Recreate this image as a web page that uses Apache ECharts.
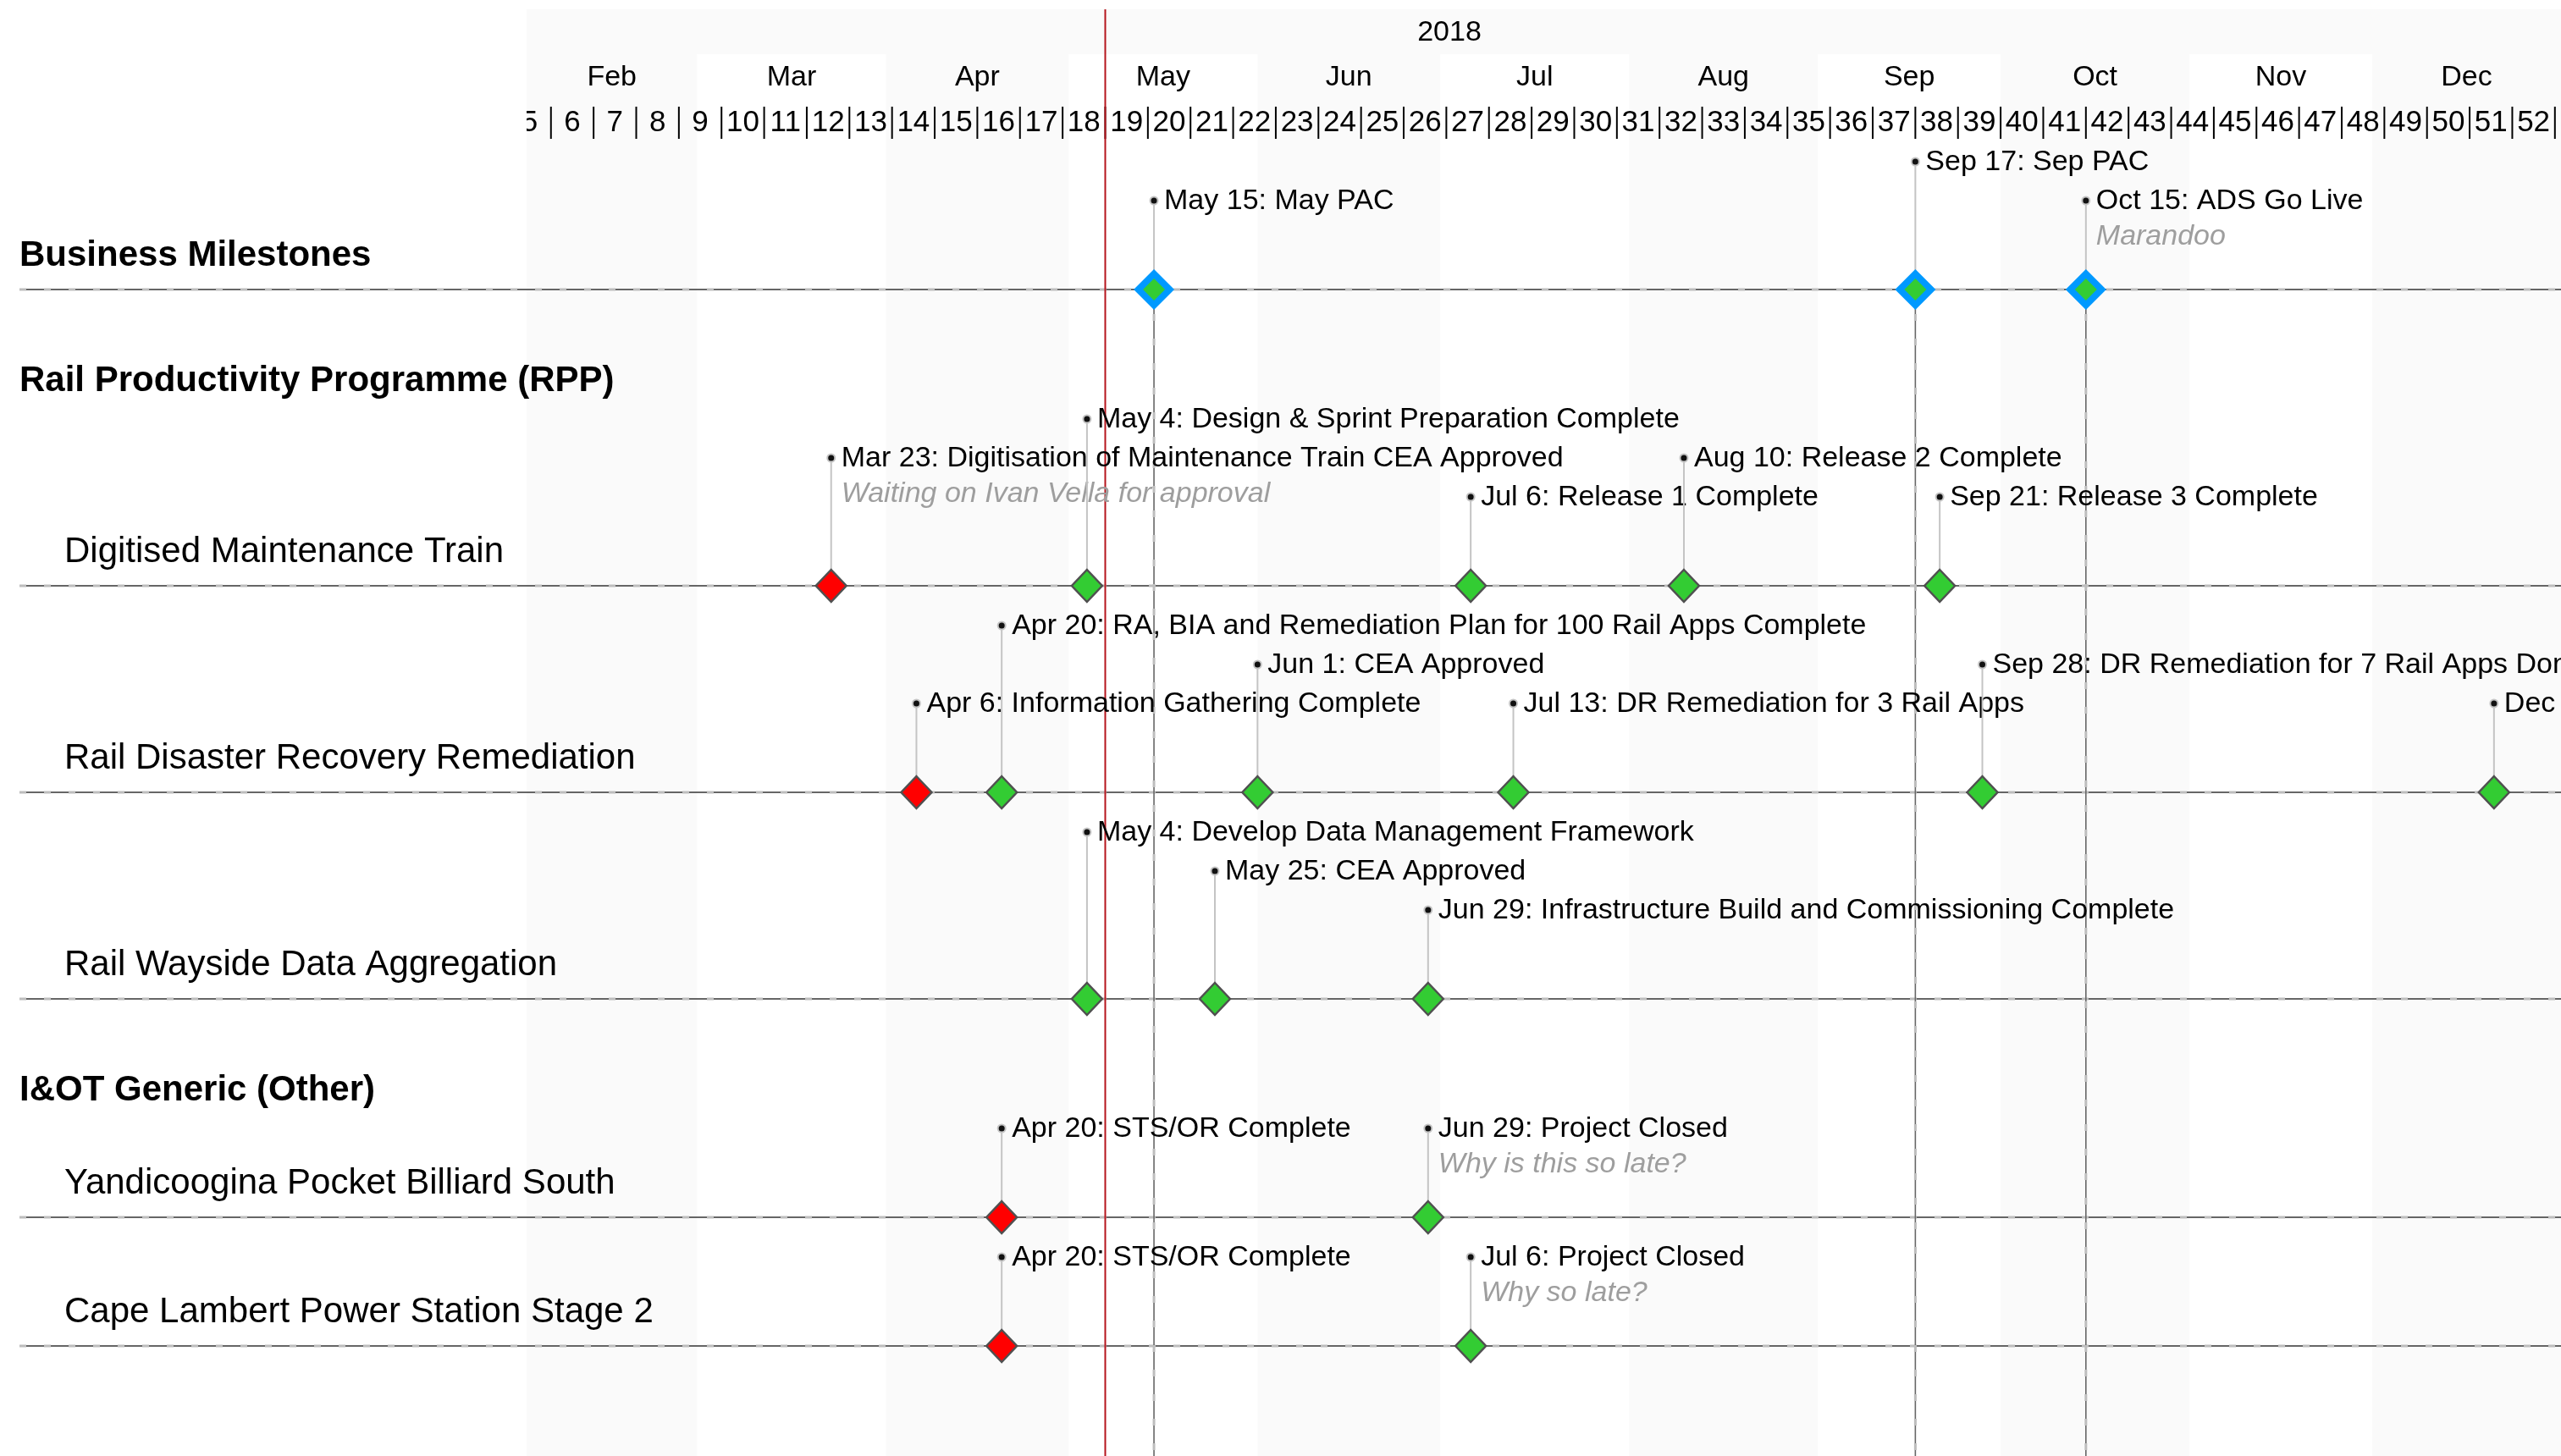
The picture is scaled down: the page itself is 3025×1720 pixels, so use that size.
<!DOCTYPE html>
<html>
<head>
<meta charset="utf-8">
<title>Milestones 2018</title>
<script src="https://cdn.jsdelivr.net/npm/echarts@6/dist/echarts.min.js"></script>
<style>
  html, body { margin: 0; padding: 0; background: #fff; }
  #chart { width: 3025px; height: 1720px; }
</style>
</head>
<body>
<div id="chart"></div>
<script>
  const yearLabel = '2018'
  const monthNames = ['Jan', 'Feb', 'Mar', 'Apr', 'May', 'Jun', 'Jul', 'Aug', 'Sep', 'Oct', 'Nov', 'Dec']
  const weekNumbers = [5, 6, 7, 8, 9, 10, 11, 12, 13, 14, 15, 16, 17, 18, 19, 20, 21, 22, 23, 24, 25, 26, 27, 28,
    29, 30, 31, 32, 33, 34, 35, 36, 37, 38, 39, 40, 41, 42, 43, 44, 45, 46, 47, 48, 49, 50, 51, 52]
  const todayDate = '2018-05-07'
  const rangeStart = '2018-02-01'
  const rangeEnd = '2019-01-01'

  const rowNames = [
    'Business Milestones',
    'Digitised Maintenance Train',
    'Rail Disaster Recovery Remediation',
    'Rail Wayside Data Aggregation',
    'Yandicoogina Pocket Billiard South',
    'Cape Lambert Power Station Stage 2'
  ]
  // programme header, shown above row index
  const programmes = [
    ['Rail Productivity Programme (RPP)', 1],
    ['I&OT Generic (Other)', 4]
  ]

  // [date, title, note, status, label level]
  const businessMilestones = [
    ['2018-05-15', 'May PAC', '', 'ok', 0],
    ['2018-09-17', 'Sep PAC', '', 'ok', 1],
    ['2018-10-15', 'ADS Go Live', 'Marandoo', 'ok', 0]
  ]
  const maintenanceTrain = [
    ['2018-03-23', 'Digitisation of Maintenance Train CEA Approved', 'Waiting on Ivan Vella for approval', 'late', 1],
    ['2018-05-04', 'Design & Sprint Preparation Complete', '', 'ok', 2],
    ['2018-07-06', 'Release 1 Complete', '', 'ok', 0],
    ['2018-08-10', 'Release 2 Complete', '', 'ok', 1],
    ['2018-09-21', 'Release 3 Complete', '', 'ok', 0]
  ]
  const disasterRecovery = [
    ['2018-04-06', 'Information Gathering Complete', '', 'late', 0],
    ['2018-04-20', 'RA, BIA and Remediation Plan for 100 Rail Apps Complete', '', 'ok', 2],
    ['2018-06-01', 'CEA Approved', '', 'ok', 1],
    ['2018-07-13', 'DR Remediation for 3 Rail Apps', '', 'ok', 0],
    ['2018-09-28', 'DR Remediation for 7 Rail Apps Done', '', 'ok', 1],
    ['2018-12-21', 'DR Remediation Complete', '', 'ok', 0]
  ]
  const waysideData = [
    ['2018-05-04', 'Develop Data Management Framework', '', 'ok', 2],
    ['2018-05-25', 'CEA Approved', '', 'ok', 1],
    ['2018-06-29', 'Infrastructure Build and Commissioning Complete', '', 'ok', 0]
  ]
  const yandicoogina = [
    ['2018-04-20', 'STS/OR Complete', '', 'late', 0],
    ['2018-06-29', 'Project Closed', 'Why is this so late?', 'ok', 0]
  ]
  const capeLambert = [
    ['2018-04-20', 'STS/OR Complete', '', 'late', 0],
    ['2018-07-06', 'Project Closed', 'Why so late?', 'ok', 0]
  ]
  const rowMilestones = [businessMilestones, maintenanceTrain, disasterRecovery, waysideData, yandicoogina, capeLambert]

  const FONT = '"Liberation Sans", Arial, Helvetica, sans-serif'
  const LEVEL = 46
  const STATUS_COLOR = { ok: '#33cc33', late: '#ff0000' }

  function toMs(s) {
    const p = s.split('-').map(Number)
    return new Date(p[0], p[1] - 1, p[2]).getTime()
  }

  // vertical layout of the rows (pixels, used through a hidden y axis)
  const rowLineY = []
  const rowLevel0Y = []
  const headerY = []
  let cursor = 145
  let afterLine = false
  rowNames.forEach((name, i) => {
    const prog = programmes.find(p => p[1] === i)
    let top
    if (prog) {
      cursor += afterLine ? 107 : LEVEL
      headerY.push([prog[0], cursor])
      top = cursor + LEVEL
    } else {
      top = cursor + (afterLine ? 47 : LEVEL)
    }
    const maxLevel = Math.max(...rowMilestones[i].map(m => m[4]))
    const level0 = top + maxLevel * LEVEL
    rowLevel0Y.push(level0)
    rowLineY.push(level0 + 105)
    cursor = level0 + 105
    afterLine = true
  })

  function text(x, y, str, font, fill, align) {
    return {
      type: 'text',
      style: {
        x: x, y: y + 1, text: str, font: font, fill: fill,
        align: align || 'left', textAlign: align || 'left',
        verticalAlign: 'middle', textVerticalAlign: 'middle'
      }
    }
  }

  function dashedLine(x1, y1, x2, y2, dark) {
    return [
      { type: 'line', shape: { x1, y1, x2, y2 }, style: { stroke: dark, lineWidth: 1.6 } },
      { type: 'line', shape: { x1, y1, x2, y2 }, style: { stroke: '#bdbdbd', lineWidth: 3, lineDash: [8, 21] } }
    ]
  }

  function diamond(cx, cy, hw, hh, style) {
    return {
      type: 'polygon',
      shape: { points: [[cx, cy - hh], [cx + hw, cy], [cx, cy + hh], [cx - hw, cy]] },
      style: style
    }
  }

  const chart = echarts.init(document.getElementById('chart'))

  const monthData = monthNames.map((m, i) => [new Date(2018, i, 1).getTime(), new Date(2018, i + 1, 1).getTime(), i])
    .filter(d => d[1] > toMs(rangeStart))
  const weekStart0 = toMs('2018-01-29') // Monday of week 5
  const weekData = weekNumbers.map(w => {
    const s = new Date(weekStart0)
    s.setDate(s.getDate() + (w - 5) * 7)
    const e = new Date(s)
    e.setDate(e.getDate() + 7)
    return [s.getTime(), e.getTime(), w]
  })
  const milestoneData = []
  rowMilestones.forEach((list, r) => list.forEach((m, k) => milestoneData.push([toMs(m[0]), r, k])))

  chart.setOption({
    animation: false,
    backgroundColor: '#fff',
    grid: { left: 622, right: 0, top: 0, bottom: 0 },
    xAxis: { type: 'time', min: toMs(rangeStart), max: toMs(rangeEnd), show: false },
    yAxis: { type: 'value', min: 0, max: 1720, inverse: true, show: false },
    series: [
      {
        // year band + label
        type: 'custom', z: 1, clip: true,
        data: [[toMs('2018-01-01'), toMs('2019-01-01')]],
        renderItem(params, api) {
          const a = api.coord([api.value(0), 11])
          const b = api.coord([api.value(1), 64])
          return {
            type: 'group',
            children: [
              { type: 'rect', shape: { x: a[0], y: a[1], width: b[0] - a[0], height: b[1] - a[1] }, style: { fill: '#fafafa' } },
              text((a[0] + b[0]) / 2, api.coord([0, 38])[1], yearLabel, '34px ' + FONT, '#000', 'center')
            ]
          }
        }
      },
      {
        // month bands + labels
        type: 'custom', z: 1, clip: true,
        data: monthData,
        renderItem(params, api) {
          const a = api.coord([api.value(0), 64])
          const b = api.coord([api.value(1), 1720])
          const idx = api.value(2)
          const children = []
          if (idx % 2 === 1) {
            children.push({ type: 'rect', shape: { x: a[0], y: a[1], width: b[0] - a[0], height: b[1] - a[1] }, style: { fill: '#fafafa' } })
          }
          children.push(text((a[0] + b[0]) / 2, api.coord([0, 91])[1], monthNames[idx], '34px ' + FONT, '#000', 'center'))
          return { type: 'group', children }
        }
      },
      {
        // ISO week numbers
        type: 'custom', z: 2, clip: true,
        data: weekData,
        renderItem(params, api) {
          const a = api.coord([api.value(0), 144])
          const b = api.coord([api.value(1), 144])
          const y1 = api.coord([0, 126])[1]
          const y2 = api.coord([0, 164])[1]
          return {
            type: 'group',
            children: [
              text((a[0] + b[0]) / 2, a[1], String(api.value(2)), '35px ' + FONT, '#000', 'center'),
              { type: 'line', shape: { x1: b[0], y1, x2: b[0], y2 }, style: { stroke: '#000', lineWidth: 2 } }
            ]
          }
        }
      },
      {
        // row lines, row labels and programme headers
        type: 'custom', z: 3,
        data: rowNames.map((n, i) => [toMs(rangeStart), i]),
        renderItem(params, api) {
          const i = api.value(1)
          const cs = params.coordSys
          const y = api.coord([api.value(0), rowLineY[i]])[1]
          const children = dashedLine(23, y, cs.x + cs.width, y, '#333')
          if (i === 0) {
            children.push(text(23, y - 41, rowNames[i], 'bold 42px ' + FONT, '#000'))
          } else {
            children.push(text(76, y - 41, rowNames[i], '42px ' + FONT, '#000'))
          }
          const h = headerY.find(p => programmes.find(q => q[0] === p[0])[1] === i)
          if (h) {
            children.push(text(23, api.coord([0, h[1]])[1], h[0], 'bold 42px ' + FONT, '#000'))
          }
          return { type: 'group', children }
        }
      },
      {
        // today
        type: 'custom', z: 4,
        data: [[toMs(todayDate)]],
        renderItem(params, api) {
          const a = api.coord([api.value(0), 11])
          const b = api.coord([api.value(0), 1720])
          return { type: 'line', shape: { x1: a[0], y1: a[1], x2: b[0], y2: b[1] }, style: { stroke: '#b5141c', lineWidth: 2 } }
        }
      },
      {
        // milestones
        type: 'custom', z: 5,
        data: milestoneData,
        renderItem(params, api) {
          const r = api.value(1)
          const m = rowMilestones[r][api.value(2)]
          const cs = params.coordSys
          const p = api.coord([api.value(0), rowLineY[r]])
          const x = p[0]
          const ly = p[1]
          const ty = api.coord([api.value(0), rowLevel0Y[r] - m[4] * LEVEL])[1]
          const d = new Date(api.value(0))
          const label = monthNames[d.getMonth()] + ' ' + d.getDate() + ': ' + m[1]
          let children = [
            { type: 'line', shape: { x1: x, y1: ty, x2: x, y2: ly }, style: { stroke: '#c4c4c4', lineWidth: 2 } }
          ]
          if (r === 0) {
            children = children.concat(dashedLine(x, ly, x, cs.y + cs.height, '#666'))
          }
          children.push({ type: 'circle', shape: { cx: x, cy: ty, r: 4.5 }, style: { fill: '#111', stroke: '#c4c4c4', lineWidth: 2 } })
          children.push(text(x + 12, ty, label, '34px ' + FONT, '#000'))
          if (m[2]) {
            children.push(text(x + 12, ty + 42, m[2], 'italic 34px ' + FONT, '#9e9e9e'))
          }
          if (r === 0) {
            children.push(diamond(x, ly, 24, 24, { fill: '#0099ff' }))
            children.push(diamond(x, ly, 13, 13, { fill: STATUS_COLOR[m[3]] }))
          } else {
            children.push(diamond(x, ly, 18, 19, { fill: STATUS_COLOR[m[3]], stroke: '#505050', lineWidth: 2.5 }))
          }
          return { type: 'group', children }
        }
      }
    ]
  })
</script>
</body>
</html>
